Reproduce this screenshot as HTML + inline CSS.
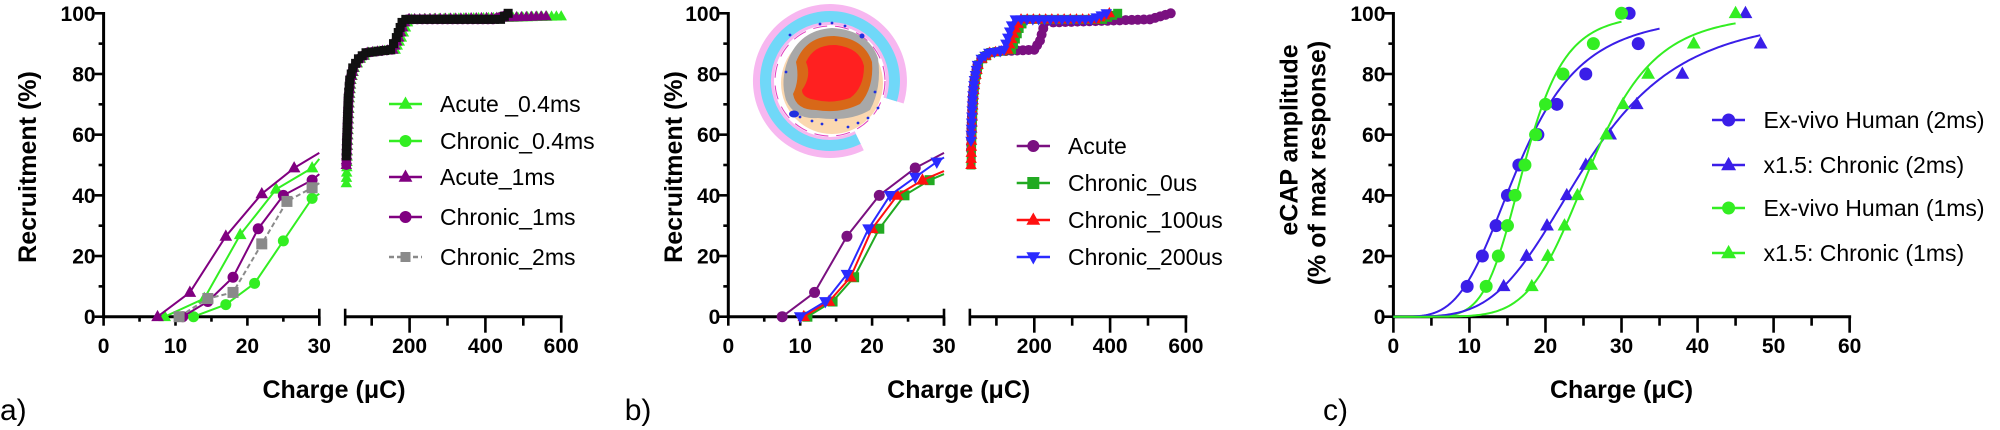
<!DOCTYPE html>
<html><head><meta charset="utf-8"><style>
html,body{margin:0;padding:0;background:#fff;}
svg{display:block;}
text{font-family:"Liberation Sans",Arial,sans-serif;}
.tk{font-size:21px;font-weight:bold;fill:#000;}
.lg{font-size:23px;fill:#000;}
.al{font-size:25px;font-weight:bold;fill:#000;}
</style></head><body>
<svg id="s" width="2000" height="430" viewBox="0 0 2000 430" xmlns="http://www.w3.org/2000/svg">
<!-- inset image panel b -->
<g id="inset">
<path d="M 906.6 80 A 77 77 0 0 1 863.8 149.2 L 858.6 137.4 A 64 64 0 1 1 894 80 Z" fill="none"/>
</g>
</svg>
<script>
const S=document.getElementById('s');const NS='http://www.w3.org/2000/svg';
function el(t,a,p){const e=document.createElementNS(NS,t);for(const k in a)e.setAttribute(k,a[k]);(p||S).appendChild(e);return e;}
function txt(x,y,s,cls,anchor,extra){const e=el('text',Object.assign({x:x,y:y,class:cls,'text-anchor':anchor||'start'},extra||{}));e.textContent=s;return e;}
const Y=v=>316.7-3.034*v;
function marker(type,x,y,c,sz){sz=sz||5.5;
 if(type==='c')el('circle',{cx:x,cy:y,r:sz,fill:c});
 else if(type==='s')el('rect',{x:x-sz,y:y-sz,width:2*sz,height:2*sz,fill:c});
 else if(type==='t')el('polygon',{points:`${x},${y-sz*1.25} ${x-sz*1.15},${y+sz*0.8} ${x+sz*1.15},${y+sz*0.8}`,fill:c});
 else if(type==='d')el('polygon',{points:`${x},${y+sz*1.25} ${x-sz*1.15},${y-sz*0.8} ${x+sz*1.15},${y-sz*0.8}`,fill:c});
}
function line(pts,c,w,dash){el('polyline',{points:pts.map(p=>p.join(',')).join(' '),fill:'none',stroke:c,'stroke-width':w||2,'stroke-dasharray':dash||'none','stroke-linejoin':'round'});}
function L(x1,y1,x2,y2,w){el('line',{x1,y1,x2,y2,stroke:'#000','stroke-width':w||3});}

// ---------- axes for panels a & b ----------
function splitPanel(off,label,letter,ylabX){
 const X=v=>103.6+off+7.19*v, XR=v=>333.8+off+0.379*v;
 const ax=103.6+off;
 L(ax,12,ax,318.2);
 for(let v=0;v<=100;v+=10){const m=v%20===0;L(ax-(m?9:5),Y(v),ax,Y(v),2.6);
  if(m)txt(ax-8,Y(v)+7.5,String(v),'tk','end');}
 L(ax-1.5,Y(0),X(30),Y(0));
 for(let v=0;v<=30;v+=5){const m=v%10===0;L(X(v),Y(0),X(v),Y(0)+(m?9:5),2.6);
  if(m)txt(X(v),353,String(v),'tk','middle');}
 L(X(30),Y(0)-8,X(30),Y(0)+9,2.6);
 L(XR(30),Y(0),XR(600)+1.5,Y(0));
 L(XR(30),Y(0)-8,XR(30),Y(0)+9,2.6);
 for(let v=100;v<=600;v+=100){const m=v%200===0;L(XR(v),Y(0),XR(v),Y(0)+(m?16:9),2.6);
  if(m)txt(XR(v),353,String(v),'tk','middle');}
 txt(334+off,398,'Charge (\u03BCC)','al','middle');
 txt(ylabX,167,'Recruitment (%)','al','middle',{transform:`rotate(-90 ${ylabX} 167)`,dy:'9'});
 txt(off+0,420,letter,'lg','start',{style:'font-size:30px'});
 return {X,XR};
}
// inset (behind)
(function(){
 const g=el('g',{});
 const cx=830,cy=81;
 function ring(r1,r2,fill){ // ring with notch 17..64 deg
  const a1=17*Math.PI/180,a2=64*Math.PI/180;
  const p=(r,a)=>[(cx+r*Math.cos(a)).toFixed(1),(cy+r*Math.sin(a)).toFixed(1)];
  const [x1,y1]=p(r2,a2),[x2,y2]=p(r2,a1),[x3,y3]=p(r1,a1),[x4,y4]=p(r1,a2);
  el('path',{d:`M${x1},${y1} A${r2},${r2} 0 1 1 ${x2},${y2} L${x3},${y3} A${r1},${r1} 0 1 0 ${x4},${y4} Z`,fill},g);
 }
 ring(0,77,'#f7b7f0');
 ring(0,70,'#70d8f8');
 ring(0,59,'#f7b7f0');
 el('circle',{cx:cx,cy:cy,r:56,fill:'#fff'},g);
 el('circle',{cx:cx,cy:cy,r:55,fill:'none',stroke:'#e040c0','stroke-width':1,'stroke-dasharray':'14 8'},g);
 el('circle',{cx:cx+2,cy:cy+2,r:51,fill:'#fbd8b0'},g);
 el('path',{d:'M788,60 Q800,30 832,28 Q868,30 878,58 Q882,88 870,110 Q850,122 818,118 Q795,120 786,100 Q780,80 788,60 Z',fill:'#a8a8a8'},g);
 el('path',{d:'M796,62 Q806,36 834,36 Q864,38 872,62 Q874,88 860,104 Q840,114 816,110 Q796,110 793,94 Q800,80 796,62 Z',fill:'#d86818'},g);
 el('path',{d:'M806,62 Q814,44 836,45 Q860,48 864,66 Q864,88 850,98 Q832,104 816,100 Q802,98 802,90 Q812,76 806,62 Z',fill:'#ff2020'},g);
 el('ellipse',{cx:794,cy:114,rx:5,ry:3.5,fill:'#2030e0'},g);
 el('circle',{cx:862,cy:36,r:2.5,fill:'#2030e0'},g);
 [[800,117],[812,121],[822,124],[836,120],[848,127],[858,123],[868,118],[878,108],[820,24],[832,23],[845,26],[790,35],[786,72],[875,92]].forEach(p=>el('circle',{cx:p[0],cy:p[1],r:1.4,fill:'#2030e0'},g));
})();

// ---------- panel a ----------
const A=splitPanel(0,'','a)',27);
function seriesL(P,pts,c,m,dash,ms){const q=pts.map(p=>[P.X(p[0]),Y(p[1])]);line(q,c,2,dash);pts.forEach((p,i)=>{if(p[0]<30)marker(m,q[i][0],q[i][1],c,ms);});}
const G='#33ee22',PU='#800080',GR='#8a8a8a';
seriesL(A,[[12.5,0],[17,4],[21,11],[25,25],[29,39],[30,40.5]],G,'c');
seriesL(A,[[8.5,0],[14,6],[19,27],[24,42],[29,49],[30,52]],G,'t');
seriesL(A,[[7.5,0],[12,8],[17,26.5],[22,40.5],[26.5,49],[30,54]],PU,'t');
seriesL(A,[[11,0],[14.5,5],[18,13],[21.5,29],[25,40],[29,45],[30,47]],PU,'c');
seriesL(A,[[10.5,0],[14.5,6],[18,8],[22,24],[25.5,38],[29,42.5],[30,44]],GR,'s','5 3');
function dense(P,pts,c,m,w,step,ms){
 const q=pts.map(p=>[P.XR(p[0]),Y(p[1])]);line(q,c,w||3);
 for(let i=0;i<q.length-1;i++){const [x1,y1]=q[i],[x2,y2]=q[i+1];const d=Math.hypot(x2-x1,y2-y1);const n=Math.max(1,Math.round(d/(step||5)));
  for(let k=0;k<n;k++){marker(m,x1+(x2-x1)*k/n,y1+(y2-y1)*k/n,c,ms||5);}}
 marker(m,q[q.length-1][0],q[q.length-1][1],c,ms||5);
}
const base=[[34,58],[36,65],[38,72],[42,78],[50,82],[65,85],[85,87],[150,88],[165,92],[180,97],[190,98]];
function shift(dx){return base.map(p=>[p[0]+dx*(p[0]/100),p[1]]);}
dense(A,[[33,44]].concat(shift(8),[[200,98],[460,98.5],[600,99]]),G,'t',4,5);
dense(A,[[33,50]].concat(shift(4),[[200,98],[430,98.5],[560,99]]),PU,'t',4,5);
dense(A,[[33,50]].concat(shift(2),[[420,98],[455,99.5]]),PU,'c',4,5);
dense(A,[[33,53]].concat(shift(0),[[440,98],[460,100]]),'#111','s',4,6,4.5);
// legend a
[['Acute _0.4ms',G,'t',104],['Chronic_0.4ms',G,'c',141],['Acute_1ms',PU,'t',177],['Chronic_1ms',PU,'c',217],['Chronic_2ms',GR,'s',257]].forEach(r=>{
 line([[389,r[3]],[422,r[3]]],r[1],2.5,r[2]==='s'?'5 3':null);marker(r[2],405.5,r[3],r[1],r[2]==='s'?5:6);
 txt(440,r[3]+8,r[0],'lg');});

// ---------- panel b ----------
const B=splitPanel(624.7,'','b)',673);
const PB='#7a1080',GB='#22aa22',RB='#ff1010',BB='#2a2aff';
seriesL(B,[[7.5,0],[12,8],[16.5,26.5],[21,40],[26,49],[30,54]],PB,'c');
seriesL(B,[[11,0],[14.5,5],[17.5,13],[21,29],[24.5,40],[28,45],[30,47]],GB,'s',null,5);
seriesL(B,[[10.5,0],[14,5],[17,13],[20,29],[23.5,40],[27,45],[30,48]],RB,'t');
seriesL(B,[[10,0],[13.5,5],[16.5,14],[19.5,29],[22.5,40],[26,46],[29,51],[30,52.5]],BB,'d');
const bb=[[34,62],[36,68],[38,73],[42,78],[50,83],[60,85],[80,87],[110,87.5]];
dense(B,[[33,55]].concat(bb,[[200,88],[215,91],[228,97],[250,97],[505,98],[560,100]]),PB,'c',4,6);
dense(B,[[33,50]].concat(bb.map(p=>[p[0]*1.06,p[1]]),[[140,88],[160,95],[175,98],[380,98],[420,100]]),GB,'s',4,6,4.5);
dense(B,[[33,50]].concat(bb.map(p=>[p[0]*1.03,p[1]]),[[130,88],[150,95],[165,98],[360,98],[398,100]]),RB,'t',4,6);
dense(B,[[33,58]].concat(bb,[[120,88],[140,96],[150,98],[350,98],[390,100]]),BB,'d',4,6);
[['Acute',PB,'c',146],['Chronic_0us',GB,'s',183],['Chronic_100us',RB,'t',220],['Chronic_200us',BB,'d',257]].forEach(r=>{
 line([[1016.7,r[3]],[1050,r[3]]],r[1],2.5);marker(r[2],1033.3,r[3],r[1],6);
 txt(1068,r[3]+8,r[0],'lg');});

// ---------- panel c ----------
(function(){
 const X=v=>1393.4+7.604*v, ax=1393.4;
 L(ax,12,ax,318.2);
 for(let v=0;v<=100;v+=10){const m=v%20===0;L(ax-(m?9:5),Y(v),ax,Y(v),2.6);if(m)txt(ax-8,Y(v)+7.5,String(v),'tk','end');}
 L(ax-1.5,Y(0),X(60)+1.5,Y(0));
 for(let v=0;v<=60;v+=5){const m=v%10===0;L(X(v),Y(0),X(v),Y(0)+(m?16:9),2.6);if(m)txt(X(v),353,String(v),'tk','middle');}
 txt(1621.5,398,'Charge (\u03BCC)','al','middle');
 txt(1288.6,140,'eCAP amplitude','al','middle',{transform:'rotate(-90 1288.6 140)',dy:'9'});
 txt(1316.5,163,'(% of max response)','al','middle',{transform:'rotate(-90 1316.5 163)',dy:'9'});
 txt(1323,420,'c)','lg','start',{style:'font-size:30px'});
 const B2='#3a1ee8',G2='#33ee22';
 function hill(ec,n,xmax,c){const q=[];for(let x=0;x<=xmax+0.001;x+=0.25){q.push([X(x),Y(100*Math.pow(x,n)/(Math.pow(x,n)+Math.pow(ec,n)))]);}line(q,c,2);}
 hill(16.5,3.9,35,B2);hill(17.2,6.4,30,G2);hill(25.3,3.95,48.3,B2);hill(26,6.15,45,G2);
 [[9.7,10],[11.7,20],[13.5,30],[15,40],[16.5,50],[19,60],[21.5,70],[25.3,80],[32.2,90],[31,100]].forEach(p=>marker('c',X(p[0]),Y(p[1]),B2,6.5));
 [[14.5,10],[17.5,20],[20.2,30],[22.8,40],[25.3,50],[28.5,60],[32,70],[38,80],[48.3,90],[46.3,100]].forEach(p=>marker('t',X(p[0]),Y(p[1]),B2,6));
 [[12.2,10],[13.8,20],[15,30],[16,40],[17.3,50],[18.7,60],[20,70],[22.3,80],[26.3,90],[30,100]].forEach(p=>marker('c',X(p[0]),Y(p[1]),G2,6.5));
 [[18.2,10],[20.3,20],[22.5,30],[24.2,40],[26,50],[28,60],[30.2,70],[33.5,80],[39.5,90],[45,100]].forEach(p=>marker('t',X(p[0]),Y(p[1]),G2,6));
 [['Ex-vivo Human (2ms)',B2,'c',120],['x1.5: Chronic (2ms)',B2,'t',165],['Ex-vivo Human (1ms)',G2,'c',208],['x1.5: Chronic (1ms)',G2,'t',253]].forEach(r=>{
  line([[1712,r[3]],[1745,r[3]]],r[1],2.5);marker(r[2],1728.6,r[3],r[1],6.5);
  txt(1763.5,r[3]+8,r[0],'lg');});
})();
</script>
</body></html>
